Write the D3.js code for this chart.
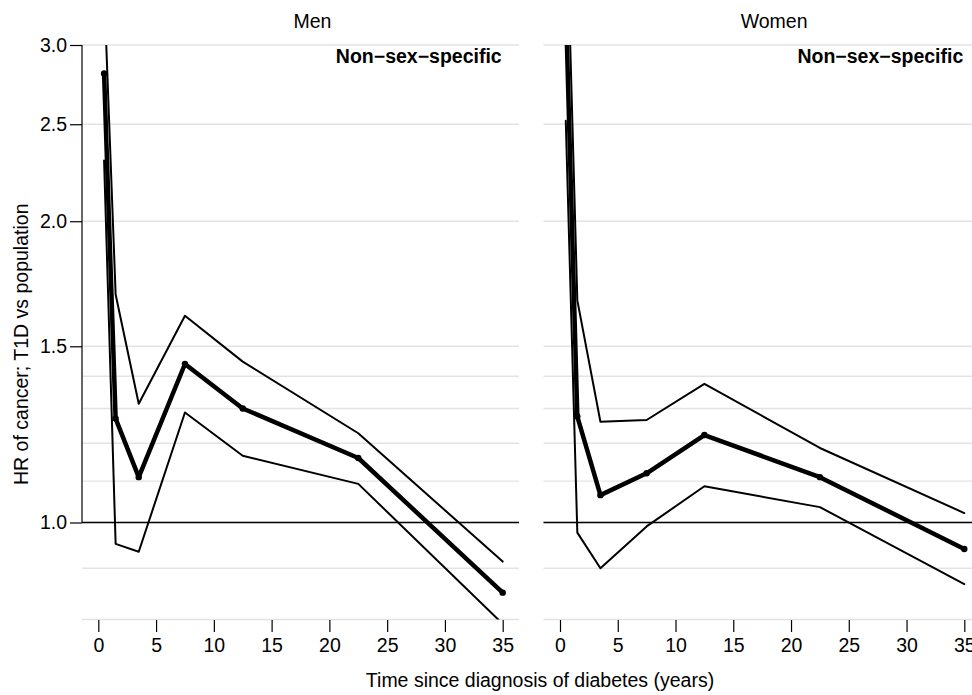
<!DOCTYPE html>
<html>
<head>
<meta charset="utf-8">
<script src="https://cdn.jsdelivr.net/npm/d3@7"></script>
<style>
  html, body { margin: 0; padding: 0; background: #fff; }
  svg text { font-family: "Liberation Sans", Arial, Helvetica, sans-serif; fill: #000; }
</style>
</head>
<body>
<svg id="chart" width="972" height="695"></svg>
<script>
// Follow-up time points (years since diagnosis)
const times = [0.5, 1.5, 3.5, 7.5, 12.5, 22.5, 35];

// Hazard ratios with 95% confidence limits, men
const menHR    = [2.81, 1.27, 1.11, 1.44, 1.30, 1.16, 0.851];
const menLower = [2.30, 0.952, 0.935, 1.288, 1.166, 1.093, 0.792];
const menUpper = [3.43, 1.69, 1.314, 1.609, 1.448, 1.228, 0.914];

// Hazard ratios with 95% confidence limits, women
const womenHR    = [3.30, 1.276, 1.065, 1.12, 1.223, 1.11, 0.941];
const womenLower = [2.52, 0.977, 0.90, 0.991, 1.087, 1.036, 0.868];
const womenUpper = [4.33, 1.667, 1.261, 1.266, 1.376, 1.187, 1.022];

const panelTitles = ["Men", "Women"];
const subTitle = "Non\u2212sex\u2212specific";
const xTicks = [0, 5, 10, 15, 20, 25, 30, 35];
const yTicks = [1.0, 1.5, 2.0, 2.5, 3.0];
const gridValues = [0.8, 0.9, 1.0, 1.1, 1.2, 1.3, 1.4, 1.5, 2.0, 2.5, 3.0];
const yDomain = [0.8, 3.0];
const xTitle = "Time since diagnosis of diabetes (years)";
const yTitle = "HR of cancer; T1D vs population";

const panels = [
  { title: panelTitles[0], hr: menHR, lo: menLower, hi: menUpper, left: 82, right: 519, x0: 98.3, x35: 502.7, yAxis: true },
  { title: panelTitles[1], hr: womenHR, lo: womenLower, hi: womenUpper, left: 543.5, right: 980, x0: 560, x35: 964.3, yAxis: false }
];

const svg = d3.select("#chart");
const FONT = 19.5;
const plotTop = 45, plotBottom = 619.5;

const y = d3.scaleLog().domain(yDomain).range([plotBottom, plotTop]);

panels.forEach((p, i) => {
  const x = d3.scaleLinear().domain([0, 35]).range([p.x0, p.x35]);
  const g = svg.append("g");

  // light horizontal reference grid
  g.selectAll("line.grid").data(gridValues).enter().append("line")
    .attr("class", "grid")
    .attr("x1", p.left).attr("x2", p.right)
    .attr("y1", d => y(d)).attr("y2", d => y(d))
    .attr("stroke", "#e3e3e3").attr("stroke-width", 1.4);

  // HR = 1 reference line
  g.append("line")
    .attr("x1", p.left).attr("x2", p.right)
    .attr("y1", y(1)).attr("y2", y(1))
    .attr("stroke", "#000").attr("stroke-width", 1.3);

  const clipId = "clip" + i;
  svg.append("clipPath").attr("id", clipId).append("rect")
    .attr("x", p.left).attr("y", plotTop)
    .attr("width", p.right - p.left).attr("height", plotBottom - plotTop);

  const plot = g.append("g").attr("clip-path", `url(#${clipId})`);
  const line = d3.line().x((d, k) => x(times[k])).y(d => y(d));

  [p.lo, p.hi].forEach(series => {
    plot.append("path").datum(series)
      .attr("d", line)
      .attr("fill", "none").attr("stroke", "#000")
      .attr("stroke-width", 2).attr("stroke-linejoin", "round").attr("stroke-linecap", "round");
  });

  plot.append("path").datum(p.hr)
    .attr("d", line)
    .attr("fill", "none").attr("stroke", "#000")
    .attr("stroke-width", 4.5).attr("stroke-linejoin", "round").attr("stroke-linecap", "round");

  plot.selectAll("circle").data(p.hr).enter().append("circle")
    .attr("cx", (d, k) => x(times[k])).attr("cy", d => y(d))
    .attr("r", 3.2).attr("fill", "#000");

  // x axis (ticks only, no baseline)
  const xAxis = g.append("g").attr("transform", `translate(0,${plotBottom + 0.5})`)
    .call(d3.axisBottom(x).tickValues(xTicks).tickSize(12).tickPadding(6).tickFormat(d3.format("d")));
  xAxis.select(".domain").remove();
  xAxis.selectAll("line").attr("stroke", "#000").attr("stroke-width", 1.2);
  xAxis.selectAll("text").attr("font-size", FONT).attr("fill", "#000")
    .attr("font-family", "Liberation Sans, Arial, sans-serif");

  if (p.yAxis) {
    const yAxis = g.append("g").attr("transform", `translate(${p.left},0)`)
      .call(d3.axisLeft(y).tickValues(yTicks).tickSize(12).tickPadding(3).tickFormat(d3.format(".1f")));
    yAxis.select(".domain").remove();
    yAxis.selectAll("line").attr("stroke", "#000").attr("stroke-width", 1.2);
    yAxis.selectAll("text").attr("font-size", FONT).attr("fill", "#000")
      .attr("font-family", "Liberation Sans, Arial, sans-serif");
    yAxis.append("line")
      .attr("x1", 0).attr("x2", 0)
      .attr("y1", y(yTicks[0])).attr("y2", y(yTicks[yTicks.length - 1]))
      .attr("stroke", "#000").attr("stroke-width", 1.2);
  }

  // panel heading and subgroup label
  g.append("text")
    .attr("x", x(17.5) + 12).attr("y", 28)
    .attr("text-anchor", "middle").attr("font-size", FONT)
    .text(p.title);
  g.append("text")
    .attr("x", x(35) - 1).attr("y", 63)
    .attr("text-anchor", "end").attr("font-size", FONT).attr("font-weight", "bold")
    .text(subTitle);
});

svg.append("text")
  .attr("x", 540).attr("y", 687)
  .attr("text-anchor", "middle").attr("font-size", FONT)
  .text(xTitle);

svg.append("text")
  .attr("transform", `translate(28,${(plotTop + plotBottom) / 2 + 12}) rotate(-90)`)
  .attr("text-anchor", "middle").attr("font-size", FONT)
  .text(yTitle);
</script>
</body>
</html>
